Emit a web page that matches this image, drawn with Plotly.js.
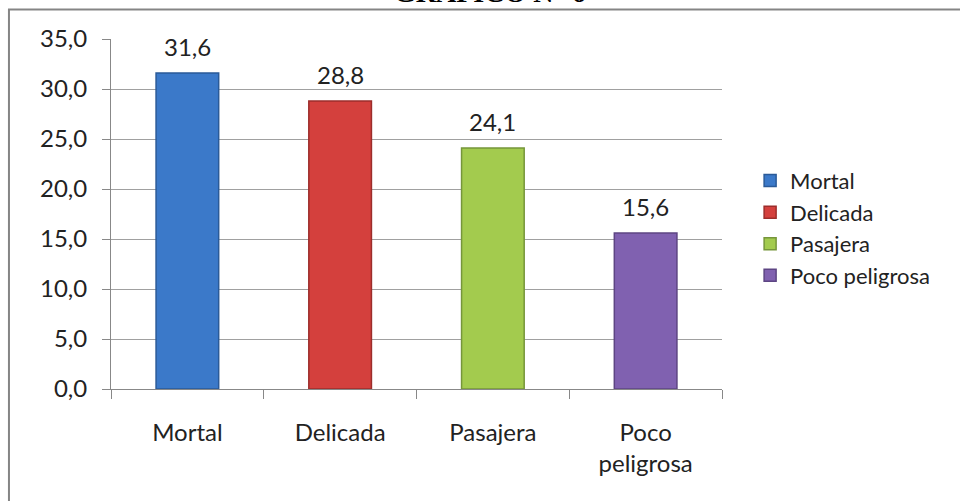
<!DOCTYPE html>
<html>
<head>
<meta charset="utf-8">
<script src="https://cdn.plot.ly/plotly-3.0.1.min.js"></script>
<style>
  html, body { margin: 0; padding: 0; background: #fff; overflow: hidden; }
  #chart { width: 960px; height: 501px; }
</style>
</head>
<body>
<div id="chart"></div>
<script>
// Categories and percentages
const categories = ['Mortal', 'Delicada', 'Pasajera', 'Poco peligrosa'];
const tickLabels = ['Mortal', 'Delicada', 'Pasajera', 'Poco<br>peligrosa'];
const values = [31.6, 28.8, 24.1, 15.6];
const fillColors = ['#3b79c9', '#d4403d', '#a3cb4e', '#8061b0'];
const edgeColors = ['#2a5a98', '#9c2d2b', '#76963a', '#5d4583'];
const yTicks = [0, 5, 10, 15, 20, 25, 30, 35];
const titleText = '<b>GRÁFICO N° 6</b>';

const FONT = 'Lato, "Open Sans", sans-serif';
const TEXT = '#222222';

// One trace per category so each gets its own legend entry
const traces = categories.map((name, i) => ({
  type: 'bar',
  name: name,
  x: [tickLabels[i]],
  y: [values[i]],
  width: 0.41,
  marker: { color: fillColors[i], line: { color: edgeColors[i], width: 1.5 } },
  hoverinfo: 'x+y'
}));

// Value labels above the bars
const valueLabels = categories.map((name, i) => ({
  x: tickLabels[i],
  y: values[i],
  xref: 'x', yref: 'y',
  text: values[i].toFixed(1).replace('.', ','),
  showarrow: false,
  yanchor: 'bottom',
  yshift: 10,
  font: { family: FONT, size: 24, color: TEXT }
}));

const layout = {
  width: 960,
  height: 501,
  margin: { l: 111, r: 238, t: 39, b: 112 },
  paper_bgcolor: '#ffffff',
  plot_bgcolor: '#ffffff',
  separators: ',.',
  barmode: 'overlay',
  showlegend: true,
  font: { family: FONT, size: 24, color: TEXT },
  xaxis: {
    type: 'category',
    categoryorder: 'array',
    categoryarray: tickLabels,
    tickson: 'boundaries',
    ticks: 'outside',
    ticklen: 9,
    tickcolor: '#888888',
    showline: true,
    linecolor: '#888888',
    linewidth: 1,
    showgrid: false,
    tickfont: { family: FONT, size: 24, color: TEXT },
    ticklabelstandoff: 22
  },
  yaxis: {
    range: [0, 35],
    tickvals: yTicks,
    tickformat: '.1f',
    ticks: 'outside',
    ticklen: 8,
    tickcolor: '#888888',
    showline: true,
    linecolor: '#888888',
    linewidth: 1,
    showgrid: true,
    gridcolor: '#a0a0a0',
    gridwidth: 1,
    zeroline: false,
    tickfont: { family: FONT, size: 24, color: TEXT },
    ticklabelstandoff: 10
  },
  legend: {
    x: 1.046, xanchor: 'left',
    y: 0.655, yanchor: 'top',
    font: { family: FONT, size: 22, color: TEXT },
    bgcolor: 'rgba(0,0,0,0)',
    itemclick: false,
    itemdoubleclick: false
  },
  shapes: [
    // frame around the chart (top and left edges fall inside the page)
    {
      type: 'rect', xref: 'paper', yref: 'paper', layer: 'below',
      x0: -0.167, x1: 1.6, y0: -0.6, y1: 1.0843,
      line: { color: '#858585', width: 2 },
      fillcolor: 'rgba(0,0,0,0)'
    }
  ],
  annotations: valueLabels.concat([
    {
      text: titleText,
      xref: 'paper', yref: 'paper',
      x: (490 - 111) / 611, y: 1.084,
      xanchor: 'center', yanchor: 'bottom',
      showarrow: false,
      font: { family: '"Liberation Serif", "DejaVu Serif", serif', size: 28, color: '#000' }
    }
  ])
};

Plotly.newPlot('chart', traces, layout, { displayModeBar: false, staticPlot: true });
</script>
</body>
</html>
